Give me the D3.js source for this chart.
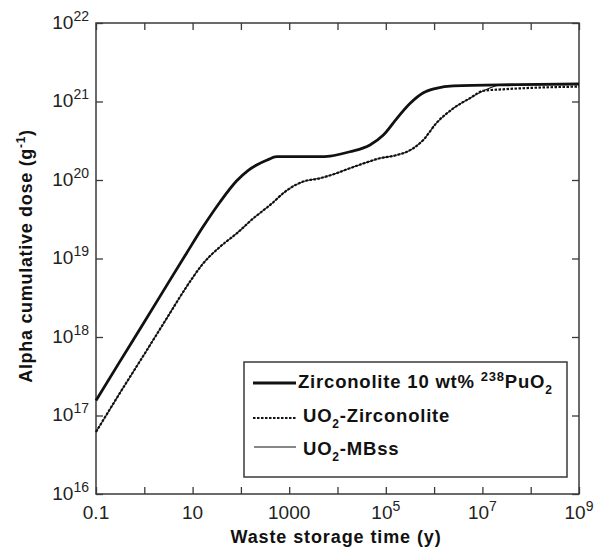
<!DOCTYPE html>
<html><head><meta charset="utf-8">
<script src="https://cdn.jsdelivr.net/npm/d3@7/dist/d3.min.js"></script>
<style>
html,body{margin:0;padding:0;background:#fff;}
svg{display:block;font-family:"Liberation Sans",Arial,sans-serif;}
</style></head>
<body>
<svg id="chart" width="605" height="553"></svg>
<script>
// ---- data ----
const zircTime = [0.1, 0.3, 1, 3, 7.5, 16.7, 37, 82, 140, 212, 350, 550, 4300, 7000, 18000, 47000, 89000, 1.7e5, 3.2e5, 6e5, 1.1e6, 2.5e6, 5e7, 1e9];
const zircDose = [1.55e17, 4.68e17, 1.55e18, 4.68e18, 1.17e19, 2.57e19, 5.25e19, 9.77e19, 1.32e20, 1.55e20, 1.80e20, 1.98e20, 1.98e20, 2.02e20, 2.29e20, 2.79e20, 3.74e20, 6.11e20, 9.48e20, 1.29e21, 1.47e21, 1.58e21, 1.64e21, 1.68e21];

const uo2ZircTime = [0.1, 0.3, 1, 3, 7.5, 16.7, 37, 82, 180, 400, 900, 1950, 4300, 9500, 18000, 34000, 75000, 1.7e5, 3.2e5, 6e5, 1.1e6, 2.5e6, 5.5e6, 1.05e7, 2.7e7, 1e9];
const uo2ZircDose = [6.17e16, 1.86e17, 6.03e17, 1.78e18, 4.37e18, 8.71e18, 1.41e19, 2.09e19, 3.24e19, 4.79e19, 7.41e19, 9.55e19, 1.05e20, 1.22e20, 1.41e20, 1.62e20, 1.89e20, 2.08e20, 2.40e20, 3.24e20, 5.25e20, 8.18e20, 1.10e21, 1.37e21, 1.43e21, 1.55e21];

const uo2MBssTime = [0.1, 0.3, 1, 3, 7.5, 16.7, 37, 82, 180, 400, 900, 1950, 4300, 9500, 18000, 34000, 75000, 1.7e5, 3.2e5, 6e5, 1.1e6, 2.5e6, 5.5e6, 1.05e7, 2.5e7, 1e9];
const uo2MBssDose = [6.17e16, 1.86e17, 6.03e17, 1.78e18, 4.37e18, 8.71e18, 1.41e19, 2.09e19, 3.24e19, 4.79e19, 7.41e19, 9.55e19, 1.05e20, 1.22e20, 1.41e20, 1.62e20, 1.89e20, 2.08e20, 2.40e20, 3.24e20, 5.25e20, 8.18e20, 1.10e21, 1.37e21, 1.62e21, 1.64e21];

const xTickValues = [0.1, 1, 10, 100, 1000, 1e4, 1e5, 1e6, 1e7, 1e8, 1e9];
const xTickLabels = [
  {v: 0.1, base: "0.1", exp: ""},
  {v: 10, base: "10", exp: ""},
  {v: 1000, base: "1000", exp: ""},
  {v: 1e5, base: "10", exp: "5"},
  {v: 1e7, base: "10", exp: "7"},
  {v: 1e9, base: "10", exp: "9"}
];
const yTickValues = [1e16, 1e17, 1e18, 1e19, 1e20, 1e21, 1e22];
const yTickExps = ["16", "17", "18", "19", "20", "21", "22"];

// ---- layout ----
const L = 96, R = 579, T = 23, B = 494;
const svg = d3.select("#chart");
const x = d3.scaleLog().domain([0.1, 1e9]).range([L, R]);
const y = d3.scaleLog().domain([1e16, 1e22]).range([B, T]);
const axisColor = "#3a3a3a";
const tickLen = 7;

// frame
svg.append("rect").attr("x", L).attr("y", T).attr("width", R - L).attr("height", B - T)
  .attr("fill", "none").attr("stroke", axisColor).attr("stroke-width", 1.5);

function styleAxis(g) {
  g.select(".domain").remove();
  g.selectAll(".tick line").attr("stroke", axisColor).attr("stroke-width", 1.3);
  g.selectAll(".tick text").remove();
}
svg.append("g").attr("transform", `translate(0,${B})`)
  .call(d3.axisBottom(x).tickValues(xTickValues).tickSize(-tickLen).tickFormat("")).call(styleAxis);
svg.append("g").attr("transform", `translate(0,${T})`)
  .call(d3.axisTop(x).tickValues(xTickValues).tickSize(-tickLen).tickFormat("")).call(styleAxis);
svg.append("g").attr("transform", `translate(${L},0)`)
  .call(d3.axisLeft(y).tickValues(yTickValues).tickSize(-tickLen).tickFormat("")).call(styleAxis);
svg.append("g").attr("transform", `translate(${R},0)`)
  .call(d3.axisRight(y).tickValues(yTickValues).tickSize(-tickLen).tickFormat("")).call(styleAxis);

// x tick labels
xTickLabels.forEach(d => {
  const t = svg.append("text").attr("x", x(d.v)).attr("y", B + 25)
    .attr("text-anchor", "middle").attr("font-size", 19).attr("fill", "#222");
  t.append("tspan").text(d.base);
  if (d.exp) t.append("tspan").attr("font-size", 14).attr("dy", -8).text(d.exp);
});
// y tick labels
yTickValues.forEach((v, i) => {
  const t = svg.append("text").attr("x", L - 7).attr("y", y(v) + 5.5)
    .attr("text-anchor", "end").attr("font-size", 19).attr("fill", "#222");
  t.append("tspan").text("10");
  t.append("tspan").attr("font-size", 14).attr("dy", -8).text(yTickExps[i]);
});

// axis titles
svg.append("text").attr("x", 336).attr("y", 543).attr("text-anchor", "middle")
  .attr("font-size", 18).attr("font-weight", "bold").attr("letter-spacing", 0.9).attr("fill", "#111")
  .text("Waste storage time (y)");
const yt = svg.append("text").attr("transform", "translate(32,256) rotate(-90)")
  .attr("text-anchor", "middle").attr("font-size", 18).attr("font-weight", "bold")
  .attr("letter-spacing", 0.7).attr("fill", "#111");
yt.append("tspan").text("Alpha cumulative dose (g");
yt.append("tspan").attr("font-size", 12).attr("dy", -7).text("-1");
yt.append("tspan").attr("dy", 7).text(")");

// lines
const line = d3.line().x(d => x(d[0])).y(d => y(d[1])).curve(d3.curveMonotoneX);
const zipXY = (a, b) => a.map((v, i) => [v, b[i]]);

svg.append("path").datum(zipXY(zircTime, zircDose)).attr("d", line)
  .attr("fill", "none").attr("stroke", "#111").attr("stroke-width", 2.8);
svg.append("path").datum(zipXY(uo2MBssTime, uo2MBssDose)).attr("d", line)
  .attr("fill", "none").attr("stroke", "#111").attr("stroke-width", 1.1);
svg.append("path").datum(zipXY(uo2ZircTime, uo2ZircDose)).attr("d", line)
  .attr("fill", "none").attr("stroke", "#111").attr("stroke-width", 2.2)
  .attr("stroke-dasharray", "2.5,1.5");

// legend
svg.append("rect").attr("x", 244).attr("y", 362).attr("width", 323).attr("height", 115)
  .attr("fill", "#fff").attr("stroke", axisColor).attr("stroke-width", 1.5);
const lg = svg.append("g").attr("fill", "#111").attr("font-weight", "bold").attr("letter-spacing", 0.8);
lg.append("line").attr("x1", 253).attr("x2", 296).attr("y1", 383).attr("y2", 383)
  .attr("stroke", "#111").attr("stroke-width", 2.8);
lg.append("line").attr("x1", 253).attr("x2", 296).attr("y1", 418).attr("y2", 418)
  .attr("stroke", "#111").attr("stroke-width", 2.2).attr("stroke-dasharray", "2.5,1.5");
lg.append("line").attr("x1", 254).attr("x2", 296).attr("y1", 447).attr("y2", 447)
  .attr("stroke", "#111").attr("stroke-width", 1.1);

const t1 = lg.append("text").attr("x", 298).attr("y", 388).attr("font-size", 18.5);
t1.append("tspan").text("Zirconolite 10 wt% ");
t1.append("tspan").attr("dy", -7).attr("font-size", 13).text("238");
t1.append("tspan").attr("dy", 7).text("PuO");
t1.append("tspan").attr("dy", 6).attr("font-size", 12).text("2");

const t2 = lg.append("text").attr("x", 303).attr("y", 421.5).attr("font-size", 18.5);
t2.append("tspan").text("UO");
t2.append("tspan").attr("dy", 6).attr("font-size", 12).text("2");
t2.append("tspan").attr("dy", -6).text("-Zirconolite");

const t3 = lg.append("text").attr("x", 303).attr("y", 455).attr("font-size", 18.5);
t3.append("tspan").text("UO");
t3.append("tspan").attr("dy", 6).attr("font-size", 12).text("2");
t3.append("tspan").attr("dy", -6).text("-MBss");
</script>
</body></html>
